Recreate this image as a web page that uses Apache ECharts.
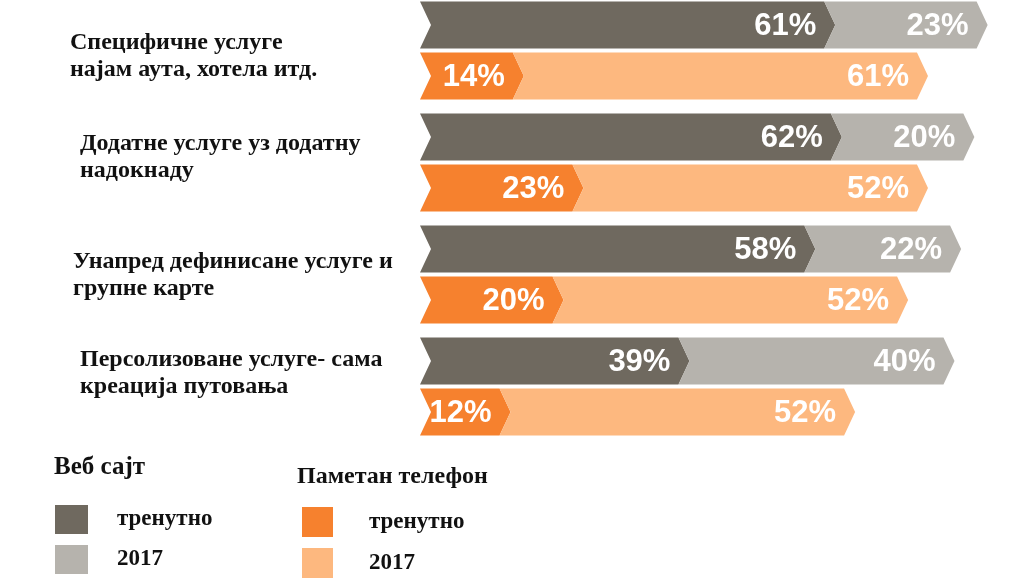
<!DOCTYPE html>
<html><head><meta charset="utf-8">
<script src="https://cdn.jsdelivr.net/npm/echarts@6/dist/echarts.min.js"></script>
<style>html,body{margin:0;padding:0;background:#fff;}#c{width:1023px;height:585px;}</style>
</head><body><div id="c"></div>
<script>
const categories = [
  'Специфичне услуге\nнајам аута, хотела итд.',
  'Додатне услуге уз додатну\nнадокнаду',
  'Унапред дефинисане услуге и\nгрупне карте',
  'Персолизоване услуге- сама\nкреација путовања'
];
const webCurrent   = [61, 62, 58, 39];
const web2017      = [23, 20, 22, 40];
const phoneCurrent = [14, 23, 20, 12];
const phone2017    = [61, 52, 52, 52];
const legendWebTitle = 'Веб сајт';
const legendPhoneTitle = 'Паметан телефон';
const legendLabels = {webCur: 'тренутно', web17: '2017', phCur: 'тренутно', ph17: '2017'};

const colors = {webCur: '#6f695f', web17: '#b6b3ad', phCur: '#f6812e', ph17: '#fdb87f'};
const labelNudge = [[0, 6], [10, -5], [3, 1], [10, -13]];
const serif = '"Liberation Serif", "Times New Roman", serif';

function stacked(base, vals) {
  return vals.map((v, i) => [base ? base[i] : 0, (base ? base[i] : 0) + v, i, v]);
}

function makeRender(offset) {
  return function (params, api) {
    const s = api.value(0), e = api.value(1), c = api.value(2), v = api.value(3);
    const p0 = api.coord([s, c]);
    const p1 = api.coord([e, c]);
    const h = 47, d = 11;
    const cy = p0[1] + offset;
    const top = cy - h / 2, bot = cy + h / 2;
    const x0 = p0[0], x1 = p1[0];
    return {
      type: 'group',
      children: [{
        type: 'polygon',
        shape: {points: [[x0, top], [x1, top], [x1 + d, cy], [x1, bot], [x0, bot], [x0 + d, cy]]},
        style: {fill: api.visual('color')}
      }, {
        type: 'text',
        x: x1 - 8, y: cy + 1,
        style: {
          text: v + '%', fill: '#fff', align: 'right', verticalAlign: 'middle',
          font: 'bold 31px "Liberation Sans", Arial, sans-serif'
        }
      }]
    };
  };
}

function renderCategory(params, api) {
  const c = api.value(1);
  const p = api.coord([0, c]);
  const n = labelNudge[c];
  return {
    type: 'text',
    x: p[0] - 350 + n[0], y: p[1] + n[1],
    style: {
      text: categories[c], fill: '#111', align: 'left', verticalAlign: 'middle',
      font: 'bold 24px ' + serif, lineHeight: 27
    }
  };
}

const webRender = makeRender(-25.5);
const phoneRender = makeRender(25.5);

const option = {
  backgroundColor: '#fff',
  animation: false,
  grid: {left: 420, right: 0, top: -5.5, height: 448, containLabel: false, outerBoundsMode: 'none'},
  xAxis: {type: 'value', min: 0, max: 91, show: false},
  yAxis: {
    type: 'category', inverse: true, data: categories,
    axisLine: {show: false}, axisTick: {show: false}, splitLine: {show: false},
    axisLabel: {show: false}
  },
  title: [
    {text: legendWebTitle, left: 54, top: 455, padding: 0,
     textStyle: {fontFamily: serif, fontWeight: 'bold', fontSize: 25, color: '#111'}},
    {text: legendPhoneTitle, left: 297, top: 465, padding: 0,
     textStyle: {fontFamily: serif, fontWeight: 'bold', fontSize: 24, color: '#111'}}
  ],
  legend: [
    {data: ['webCur', 'web17'], orient: 'vertical', left: 55, top: 505, padding: 0,
     itemWidth: 33, itemHeight: 29, itemGap: 11, icon: 'rect',
     formatter: n => legendLabels[n],
     textStyle: {fontFamily: serif, fontWeight: 'bold', fontSize: 23, color: '#111', padding: [0, 0, 0, 24]}},
    {data: ['phCur', 'ph17'], orient: 'vertical', left: 302, top: 507, padding: 0,
     itemWidth: 31, itemHeight: 30, itemGap: 11, icon: 'rect',
     formatter: n => legendLabels[n],
     textStyle: {fontFamily: serif, fontWeight: 'bold', fontSize: 23, color: '#111', padding: [0, 0, 0, 31]}}
  ],
  series: [
    {name: 'webCur', type: 'custom', renderItem: webRender, itemStyle: {color: colors.webCur},
     encode: {x: [0, 1], y: 2}, data: stacked(null, webCurrent)},
    {name: 'web17', type: 'custom', renderItem: webRender, itemStyle: {color: colors.web17},
     encode: {x: [0, 1], y: 2}, data: stacked(webCurrent, web2017)},
    {name: 'phCur', type: 'custom', renderItem: phoneRender, itemStyle: {color: colors.phCur},
     encode: {x: [0, 1], y: 2}, data: stacked(null, phoneCurrent)},
    {name: 'ph17', type: 'custom', renderItem: phoneRender, itemStyle: {color: colors.ph17},
     encode: {x: [0, 1], y: 2}, data: stacked(phoneCurrent, phone2017)},
    {name: 'categoryLabels', type: 'custom', renderItem: renderCategory, silent: true, clip: false,
     encode: {x: 0, y: 1}, data: categories.map((c, i) => [0, i])}
  ]
};
const chart = echarts.init(document.getElementById('c'), null, {renderer: 'canvas'});
chart.setOption(option);
</script>
</body></html>
